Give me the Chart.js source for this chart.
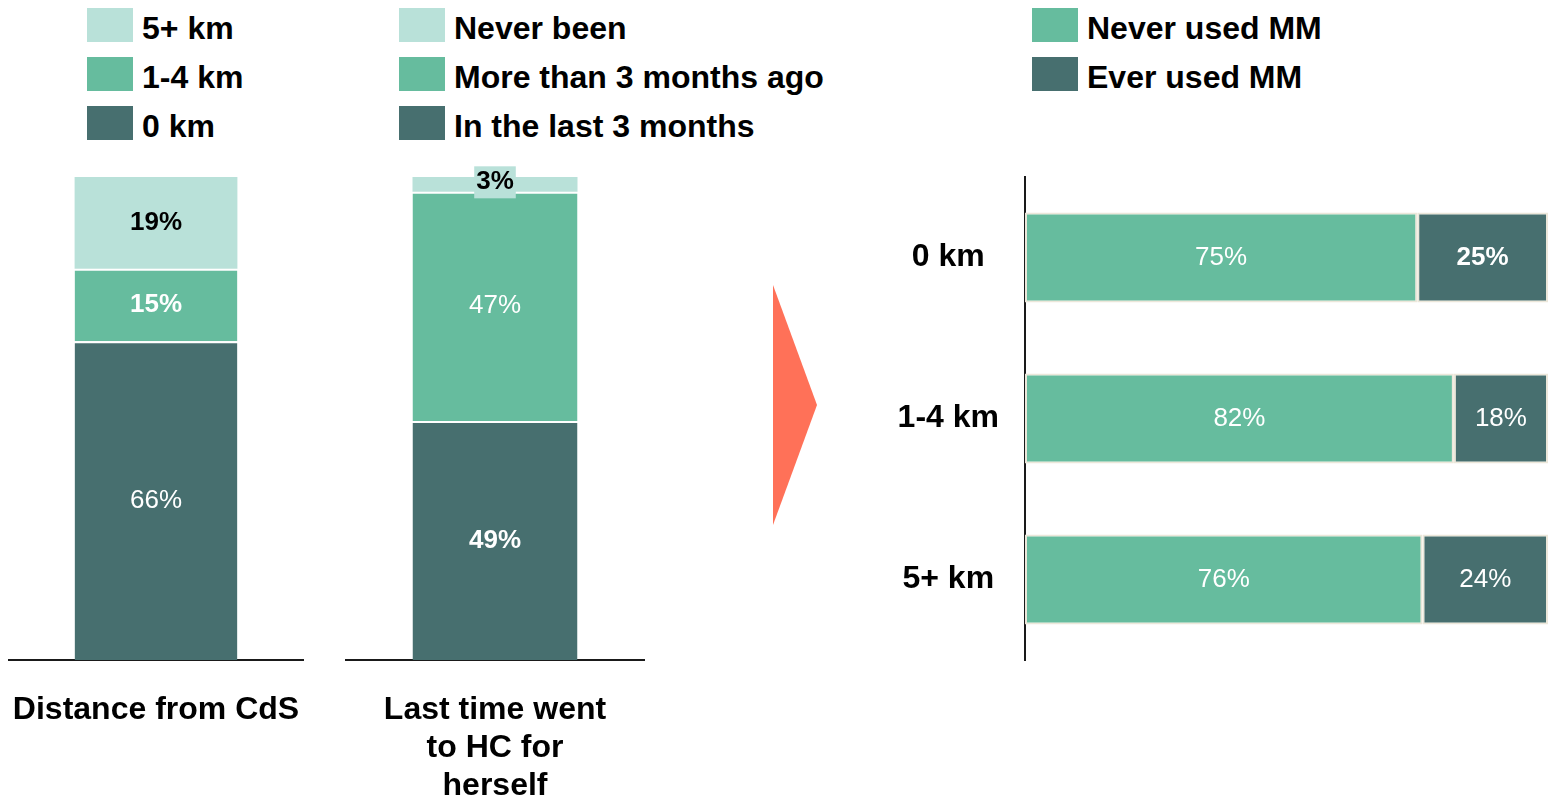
<!DOCTYPE html>
<html>
<head>
	<title>Distance from CdS and MM use</title>
	<meta charset="utf-8"/>
	<script src="https://cdn.jsdelivr.net/npm/chart.js@4.4.1/dist/chart.umd.min.js"></script>
	<style>
		body { margin: 0; width: 1548px; height: 799px; position: relative; overflow: hidden; background: #fff;
			font-family: 'Liberation Sans', Arial, sans-serif; }
		.panel { position: absolute; top: 0; height: 799px; }
		.legend { position: absolute; top: 8px; }
		.legend .row { display: flex; align-items: center; height: 34px; margin-bottom: 15px;
			font-size: 32px; font-weight: bold; color: #000; white-space: nowrap; }
		.legend .row span { position: relative; top: 3px; }
		.legend .sw { width: 46px; height: 34px; margin-right: 9px; flex: none; }
		#arrow { position: absolute; left: 773px; top: 285px; width: 44px; height: 240px; background: #FF7158;
			clip-path: polygon(0 0, 100% 50%, 0 100%); }
	</style>
</head>
<body>
	<div id="legend-dist" class="legend" style="left:87px"></div>
	<div id="legend-visit" class="legend" style="left:399px"></div>
	<div id="legend-mm" class="legend" style="left:1032px"></div>

	<div class="panel" style="left:8px; width:296px"><canvas id="distChart"></canvas></div>
	<div class="panel" style="left:345px; width:300px"><canvas id="visitChart"></canvas></div>
	<div id="arrow"></div>
	<div class="panel" style="left:880px; width:668px"><canvas id="mmChart"></canvas></div>

	<script>
		// stacked columns, bottom segment first
		var distNames = ['0 km', '1-4 km', '5+ km'];
		var distValues = [66, 15, 19];
		var distTitle = 'Distance from CdS';

		var visitNames = ['In the last 3 months', 'More than 3 months ago', 'Never been'];
		var visitValues = [49, 47, 3];
		var visitTitle = ['Last time went', 'to HC for', 'herself'];

		// horizontal bars: MM use by distance
		var mmCategories = ['0 km', '1-4 km', '5+ km'];
		var neverUsedMM = [75, 82, 76];
		var everUsedMM = [25, 18, 24];

		var shades = ['#476F6F', '#66BC9E', '#B9E1D9'];
		var fontFamily = "'Liberation Sans', Arial, sans-serif";

		// percentage text in the middle of every bar segment
		var valueLabels = {
			id: 'valueLabels',
			afterDatasetsDraw: function (chart) {
				var ctx = chart.ctx;
				chart.data.datasets.forEach(function (ds, di) {
					var meta = chart.getDatasetMeta(di);
					meta.data.forEach(function (bar, j) {
						var text = ds.data[j] + '%';
						var bold = Array.isArray(ds.labelBold) ? ds.labelBold[j] : ds.labelBold;
						var p = bar.getCenterPoint();
						ctx.save();
						ctx.font = (bold ? 'bold ' : '') + '26px ' + fontFamily;
						ctx.textAlign = 'center';
						ctx.textBaseline = 'middle';
						if (ds.labelFill) {
							var w = ctx.measureText(text).width + 4;
							ctx.fillStyle = ds.labelFill;
							ctx.fillRect(p.x - w / 2, p.y - 18, w, 32);
						}
						ctx.fillStyle = ds.labelColor;
						ctx.fillText(text, p.x, p.y + (ds.labelFill ? -2 : 0));
						ctx.restore();
					});
				});
			}
		};

		function buildLegend(id, names, colors) {
			var el = document.getElementById(id);
			for (var i = 0; i < names.length; i++) {
				var row = document.createElement('div');
				row.className = 'row';
				var sw = document.createElement('div');
				sw.className = 'sw';
				sw.style.background = colors[i];
				var txt = document.createElement('span');
				txt.textContent = names[i];
				row.appendChild(sw);
				row.appendChild(txt);
				el.appendChild(row);
			}
		}

		function stackedColumn(id, title, names, values, bold, ink, fills) {
			var total = 0;
			for (var k = 0; k < values.length; k++) total += values[k];
			var datasets = [];
			for (var i = 0; i < names.length; i++) {
				datasets.push({
					label: names[i],
					data: [values[i]],
					backgroundColor: shades[i],
					borderColor: '#ffffff',
					borderWidth: i < names.length - 1 ? { top: 2 } : 0,
					labelBold: bold[i],
					labelColor: ink[i],
					labelFill: fills[i]
				});
			}
			return new Chart(document.getElementById(id), {
				type: 'bar',
				data: { labels: [title], datasets: datasets },
				plugins: [valueLabels],
				options: {
					responsive: true,
					maintainAspectRatio: false,
					animation: false,
					layout: { padding: { top: 177 } },
					datasets: { bar: { categoryPercentage: 1, barPercentage: 0.55 } },
					plugins: { legend: { display: false }, tooltip: { enabled: false } },
					scales: {
						x: {
							stacked: true,
							// invisible tick marks push the title down without adding side padding
							grid: { display: false, drawTicks: true, tickLength: 31 },
							border: { display: true, color: '#1a1a1a', width: 2 },
							ticks: { color: '#000', padding: 0, font: { family: fontFamily, size: 32, weight: 'bold', lineHeight: 1.19 } },
							afterFit: function (s) { s.height = 139; }
						},
						y: { stacked: true, display: false, min: 0, max: total }
					}
				}
			});
		}

		stackedColumn('distChart', distTitle, distNames, distValues,
			[false, true, true], ['#fff', '#fff', '#000'], [null, null, null]);
		stackedColumn('visitChart', visitTitle, visitNames, visitValues,
			[true, false, true], ['#fff', '#fff', '#000'], [null, null, shades[2]]);

		buildLegend('legend-dist', distNames.slice().reverse(), shades.slice().reverse());
		buildLegend('legend-visit', visitNames.slice().reverse(), shades.slice().reverse());
		buildLegend('legend-mm', ['Never used MM', 'Ever used MM'], [shades[1], shades[0]]);

		new Chart(document.getElementById('mmChart'), {
			type: 'bar',
			data: {
				labels: mmCategories,
				datasets: [
					{
						label: 'Never used MM',
						data: neverUsedMM,
						backgroundColor: shades[1],
						borderColor: '#ECE7DA',
						borderWidth: 2,
						borderSkipped: false,
						labelBold: false,
						labelColor: '#fff'
					},
					{
						label: 'Ever used MM',
						data: everUsedMM,
						backgroundColor: shades[0],
						borderColor: '#ECE7DA',
						borderWidth: 2,
						borderSkipped: false,
						labelBold: [true, false, false],
						labelColor: '#fff'
					}
				]
			},
			plugins: [valueLabels],
			options: {
				indexAxis: 'y',
				responsive: true,
				maintainAspectRatio: false,
				animation: false,
				layout: { padding: { top: 177, bottom: 139 } },
				datasets: { bar: { categoryPercentage: 1, barPercentage: 0.56 } },
				plugins: { legend: { display: false }, tooltip: { enabled: false } },
				scales: {
					x: { stacked: true, display: false, min: 0, max: 100 },
					y: {
						stacked: true,
						grid: { display: false, drawTicks: false },
						border: { display: true, color: '#1a1a1a', width: 2 },
						ticks: { color: '#000', padding: 26, crossAlign: 'center', font: { family: fontFamily, size: 32, weight: 'bold' } },
						afterFit: function (s) { s.width = 145; }
					}
				}
			}
		});
	</script>
</body>
</html>
